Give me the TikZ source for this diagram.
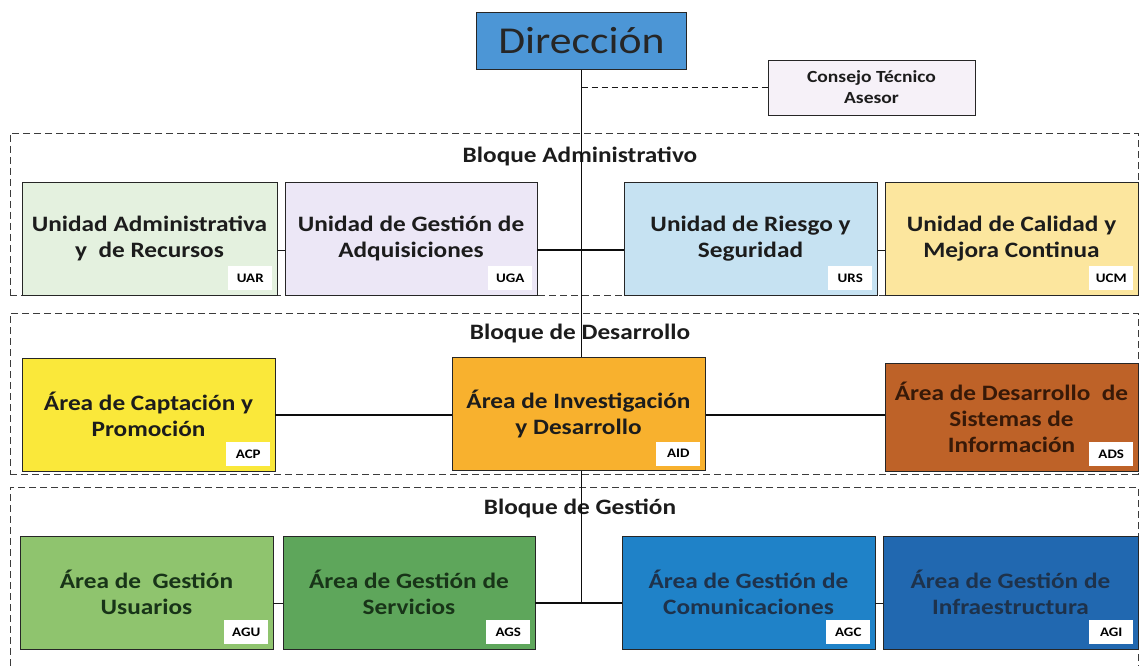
\documentclass[tikz,border=0pt]{standalone}
\usepackage{fontspec}
\setmainfont{Carlito}[FakeStretch=1.15]
\usetikzlibrary{positioning}
\definecolor{cDIR}{RGB}{76,150,214}
\definecolor{cCTA}{RGB}{246,241,248}
\definecolor{cUAR}{RGB}{228,241,223}
\definecolor{cUGA}{RGB}{236,231,246}
\definecolor{cURS}{RGB}{198,226,242}
\definecolor{cUCM}{RGB}{252,230,158}
\definecolor{cACP}{RGB}{250,232,58}
\definecolor{cAID}{RGB}{248,177,46}
\definecolor{cADS}{RGB}{190,98,40}
\definecolor{cAGU}{RGB}{143,196,110}
\definecolor{cAGS}{RGB}{94,166,91}
\definecolor{cAGC}{RGB}{31,130,200}
\definecolor{cAGI}{RGB}{33,104,176}
\definecolor{tDark}{RGB}{28,28,28}
\definecolor{tGreen}{RGB}{24,52,24}
\definecolor{tBlue}{RGB}{30,50,75}
\definecolor{tBrown}{RGB}{55,25,8}
\definecolor{lineGray}{RGB}{60,60,60}
\tikzset{
  ubox/.style={draw=black!85, line width=0.9pt, rectangle, inner sep=0pt,
    minimum width=253pt, minimum height=113pt, align=center,
    font=\fontsize{22}{26}\selectfont\bfseries, text=tDark},
  tag/.style={fill=white, inner sep=0pt, minimum width=44pt, minimum height=24pt,
    font=\fontsize{13}{15}\selectfont\bfseries, text=black},
  blockbox/.style={draw=lineGray, dashed, dash pattern=on 7pt off 4pt, line width=0.9pt,
    rectangle, inner sep=0pt},
  blocklabel/.style={font=\fontsize{22}{26}\selectfont\bfseries, text=tDark, inner sep=0pt},
  conn/.style={line width=1.4pt, draw=black!95},
  sconn/.style={line width=0.9pt, draw=black!90}
}
\begin{document}
\begin{tikzpicture}[x=1pt,y=-1pt]
\useasboundingbox (0,0) rectangle (1140,666);
\fill[white] (0,0) rectangle (1140,666);
% blocks
\node[blockbox, minimum width=1128pt, minimum height=162pt] (badm) at (574,214) {};
\node[blockbox, minimum width=1128pt, minimum height=161pt] (bdes) at (574,393.5) {};
\node[blockbox, minimum width=1128pt, minimum height=190pt] (bges) at (574,582) {};
\node[blocklabel] (ladm) at (580,156) {Bloque Administrativo};
\node[blocklabel] (ldes) at (580,334) {Bloque de Desarrollo};
\node[blocklabel] (lges) at (580,508) {Bloque de Gestión};
% top
\node[draw=black!85, line width=1pt, fill=cDIR, minimum width=210pt, minimum height=57pt,
  inner sep=0pt, font=\fontsize{38}{44}\selectfont, text=black!85] (dir) at (581.5,41) {Dirección};
\node[draw=black!85, line width=0.9pt, fill=cCTA, minimum width=207pt, minimum height=55pt,
  inner sep=0pt, align=center, font=\fontsize{17}{21}\selectfont\bfseries, text=tDark] (cta) at (871.5,87.5) {Consejo Técnico\\Asesor};
\coordinate (j3) at (581.5,603);
\coordinate (jc) at (581.5,87.5);
\draw[conn] (dir.south) -- (j3);
\draw[sconn, dashed, dash pattern=on 6pt off 4pt] (jc) -- (cta.west);
% row 1
\node[ubox, fill=cUAR, minimum width=255pt] (uar) at (149.5,238.5) {Unidad Administrativa\\y\ \ de Recursos};
\node[ubox, fill=cUGA, minimum width=252pt] (uga) at (411,238.5) {Unidad de Gestión de\\Adquisiciones};
\node[ubox, fill=cURS, minimum width=253pt] (urs) at (750.5,238.5) {Unidad de Riesgo y\\Seguridad};
\node[ubox, fill=cUCM, minimum width=253pt] (ucm) at (1011.5,238.5) {Unidad de Calidad y\\Mejora Continua};
\draw[sconn] (uar.east |- 0,250) -- (uga.west |- 0,250);
\draw[conn] (uga.east |- 0,250) -- (urs.west |- 0,250);
\draw[sconn] (urs.east |- 0,250) -- (ucm.west |- 0,250);
% row 2
\node[ubox, fill=cACP] (acp) at (148.5,414.5) {Área de Captación y\\Promoción};
\node[ubox, fill=cADS, minimum height=108pt, text=tBrown] (ads) at (1011.5,417) {Área de Desarrollo\ \ de\\Sistemas de\\Información};
\draw[conn] (acp.east |- 0,415) -- (ads.west |- 0,415);
\node[ubox, fill=cAID] (aid) at (578.5,414) {Área de Investigación\\y Desarrollo};
% row 3
\node[ubox, fill=cAGU, text=tGreen] (agu) at (146.5,592.5) {Área de\ \ Gestión\\Usuarios};
\node[ubox, fill=cAGS, text=tGreen, minimum width=252pt] (ags) at (409,592.5) {Área de Gestión de\\Servicios};
\node[ubox, fill=cAGC, text=tBlue] (agc) at (748.5,592.5) {Área de Gestión de\\Comunicaciones};
\node[ubox, fill=cAGI, text=tBlue, minimum width=255pt] (agi) at (1010.5,592.5) {Área de Gestión de\\Infraestructura};
\draw[sconn] (agu.east |- j3) -- (ags.west |- j3);
\draw[conn] (ags.east |- j3) -- (agc.west |- j3);
\draw[sconn] (agc.east |- j3) -- (agi.west |- j3);
% tags
\foreach \n/\t in {uar/UAR,uga/UGA,urs/URS,ucm/UCM,acp/ACP,aid/AID,ads/ADS,agu/AGU,ags/AGS,agc/AGC,agi/AGI}{
  \node[tag, anchor=south east] (\n tag) at ([shift={(-5pt,5pt)}]\n.south east) {\t};
}
\end{tikzpicture}
\end{document}
